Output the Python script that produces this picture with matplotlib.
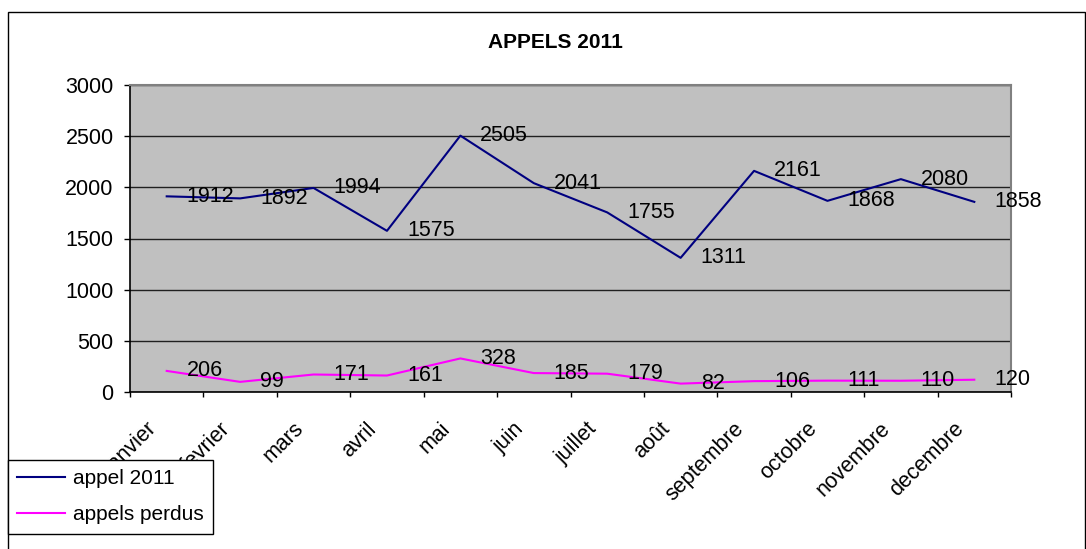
import matplotlib
matplotlib.use("Agg")
import matplotlib.pyplot as plt
from matplotlib.patches import Rectangle
import matplotlib.transforms as mtransforms

plt.rcParams['font.family'] = ['Liberation Sans', 'DejaVu Sans']

months = ["janvier", "fevrier", "mars", "avril", "mai", "juin", "juillet",
          "août", "septembre", "octobre", "novembre", "decembre"]
appels_2011 = [1912, 1892, 1994, 1575, 2505, 2041, 1755, 1311, 2161, 1868, 2080, 1858]
appels_perdus = [206, 99, 171, 161, 328, 185, 179, 82, 106, 111, 110, 120]
y_ticks = [0, 500, 1000, 1500, 2000, 2500, 3000]

W, H = 1086, 549
fig = plt.figure(figsize=(W / 100, H / 100), dpi=100)
fig.patch.set_facecolor("white")

# outer chart border
fig.add_artist(Rectangle((8 / W, -0.05), (1085 - 8) / W, 1.05 - 12 / H,
                         transform=fig.transFigure, fill=False,
                         edgecolor="black", linewidth=1.0))

left, right, top, bottom = 130, 1011, 85, 392
ax = fig.add_axes([left / W, 1 - bottom / H, (right - left) / W, (bottom - top) / H])
ax.set_facecolor("#C0C0C0")

x = list(range(len(months)))
l1, = ax.plot(x, appels_2011, color="#000080", linewidth=1.5, label="appel 2011")
l2, = ax.plot(x, appels_perdus, color="#FF00FF", linewidth=1.5, label="appels perdus")

for xi, v in zip(x, appels_2011):
    ax.annotate(str(v), (xi, v), xytext=(20, 0), textcoords="offset pixels",
                ha="left", va="center", fontsize=15.5, color="black",
                annotation_clip=False)
for xi, v in zip(x, appels_perdus):
    ax.annotate(str(v), (xi, v), xytext=(20, 0), textcoords="offset pixels",
                ha="left", va="center", fontsize=15.5, color="black",
                annotation_clip=False)

ax.set_xlim(-0.5, len(months) - 0.5)
ax.set_ylim(0, 3000)
ax.set_yticks(y_ticks)
ax.set_yticklabels([str(t) for t in y_ticks], fontsize=15.5)
ax.tick_params(axis="y", length=4.3, width=1, pad=7.5, direction="out", color="black")
ax.yaxis.grid(True, color="#202020", linewidth=1)
ax.set_axisbelow(True)

ax.set_xticks(x)
ax.set_xticklabels(months, fontsize=15.5, rotation=45, ha="right")
ax.tick_params(axis="x", which="major", length=0, pad=19)
ax.set_xticks([i - 0.5 for i in range(len(months) + 1)], minor=True)
ax.tick_params(axis="x", which="minor", length=3.5, width=1, direction="out", color="black")
offset = mtransforms.ScaledTranslation(-6 / 100, 0, fig.dpi_scale_trans)
for lab in ax.get_xticklabels():
    lab.set_transform(lab.get_transform() + offset)

for side in ("top", "right"):
    ax.spines[side].set_color("#808080")
    ax.spines[side].set_linewidth(1.5)
for side in ("left", "bottom"):
    ax.spines[side].set_color("black")
    ax.spines[side].set_linewidth(1.2)

fig.text(555.5 / W, 1 - 42 / H, "APPELS 2011", ha="center", va="center",
         fontsize=15, fontweight="bold")

leg = fig.legend(handles=[l1, l2], loc="upper left",
                 bbox_to_anchor=(8 / W, 1 - 460 / H), bbox_transform=fig.transFigure,
                 fontsize=15, frameon=True, fancybox=False, shadow=False,
                 borderaxespad=0, handlelength=2.3, handletextpad=0.35,
                 labelspacing=0.82, borderpad=0.45)
leg.get_frame().set_edgecolor("black")
leg.get_frame().set_linewidth(1.0)
leg.get_frame().set_facecolor("white")
leg.get_frame().set_alpha(1)
leg.set_zorder(10)

fig.savefig("out.png", dpi=100)
